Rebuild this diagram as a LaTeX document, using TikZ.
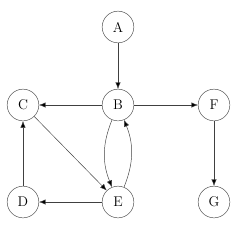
\documentclass[tikz,border=0pt]{standalone}
\usepackage{xcolor}
\usepackage{tikz}
\usetikzlibrary{arrows.meta, positioning}

\begin{document}
\begin{tikzpicture}[>={Latex[length=2mm, width=1.6mm]}, node distance=2.85cm, on grid, auto,
        vert/.style={circle, draw=black!70, thin, minimum size=0.95cm, inner sep=0pt, font=\large}]
        \useasboundingbox (-3.54,-6.0) rectangle (3.66,0.81);
        \node[vert] (A) {A};
        \node[vert] (B) [below=2.34 of A] {B};
        \node[vert] (C) [left=of B] {C};
        \node[vert] (F) [right=2.88 of B] {F};
        \node[vert] (E) [below=2.91 of B] {E};
        \node[vert] (D) [left=of E] {D};
        \node[vert] (G) [right=2.88 of E] {G};
        
        \path[->, draw=black!75, thin]
        (A) edge (B)
        (B) edge (C)
            edge (F)
            edge [bend right=22] (E)
        (E) edge [bend right=22] (B)
            edge (D)
        (C) edge (E)
        (D) edge (C)
        (F) edge (G);
    \end{tikzpicture}
\end{document}
